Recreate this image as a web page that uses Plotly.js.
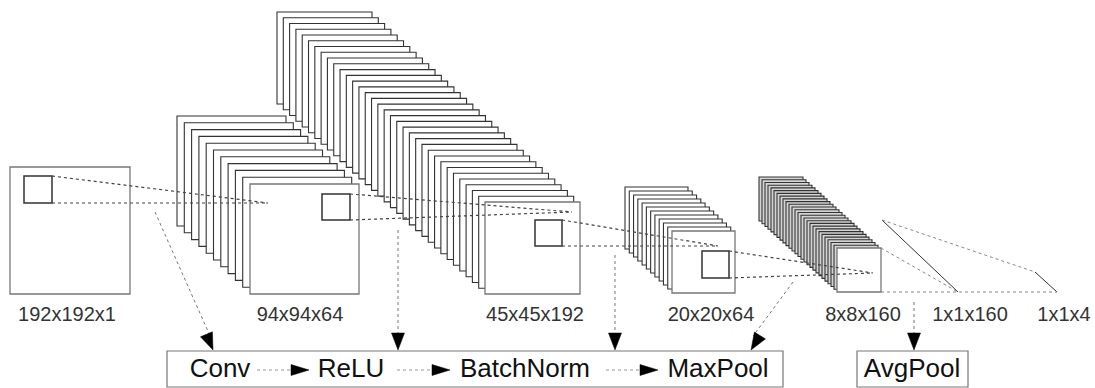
<!DOCTYPE html>
<html><head><meta charset="utf-8">
<script src="https://cdn.plot.ly/plotly-3.0.1.min.js"></script>
<style>html,body{margin:0;padding:0;background:#fff}#chart{width:1095px;height:388px}</style>
</head><body><div id="chart"></div>
<script>
// ---- data ----
const layerLabels = ['192x192x1','94x94x64','45x45x192','20x20x64','8x8x160','1x1x160','1x1x4'];
const spatialSize = [192, 94, 45, 20, 8, 1, 1];
const channels    = [1, 64, 192, 64, 160, 160, 4];
const framesDrawn = [1, 11, 34, 12, 27];
const opsMain = ['Conv', 'ReLU', 'BatchNorm', 'MaxPool'];
const opsTail = ['AvgPool'];

// ---- layout geometry (pixel space of the drawing) ----
const stackBack  = [[10,167],[177,116],[277,12],[625,187],[759,177]];
const stackFront = [[10,167],[250,184],[485,202],[672,231],[837,248]];
const faceW = [120,109,95,63,44];
const faceH = [127,110,92,62,44];
const backFill = ['#fff','#fff','#fff','#fff','#d4d4d4'];
const kernelBox = [[24,176,52,203],[322,194,350,220],[535,220,562,246],[702,251,729,278]];
const kernelTarget = [[268,203],[572,212],[718,246],[873,273]];
const labelX = [67,300,535,711,863,970,1064];
const labelY = 316;
const opsMainX = [220,351,525,718];
const opsTailX = [912];
const opsY = 370;
const mainBox = [167,351,783,387];
const tailBox = [857,351,968,387];
const inlineArrows = [[257,309],[397,450],[606,658]];
const downArrows = [[155,212,213,350],[398,230,398,350],[615,255,615,350],[793,282,751,350],[914,302,914,350]];

const shapes = [];
const L = (x0,y0,x1,y1,color,width,dash)=>shapes.push({type:'line',xref:'x',yref:'y',x0,y0,x1,y1,line:{color,width,dash:dash||'solid'}});
const R = (x0,y0,x1,y1,color,width,fill)=>shapes.push({type:'rect',xref:'x',yref:'y',x0,y0,x1,y1,line:{color,width},fillcolor:fill||'rgba(0,0,0,0)'});
function head(tx,ty,fx,fy,len,hw){
  const dx=tx-fx, dy=ty-fy, d=Math.hypot(dx,dy), ux=dx/d, uy=dy/d;
  const bx=tx-ux*len, by=ty-uy*len, px=-uy*hw, py=ux*hw;
  shapes.push({type:'path',xref:'x',yref:'y',path:`M ${tx} ${ty} L ${bx+px} ${by+py} L ${bx-px} ${by-py} Z`,fillcolor:'#000',line:{color:'#000',width:0.5}});
}

// stacks of feature maps
framesDrawn.forEach((n,i)=>{
  const [bx,by]=stackBack[i], [fx,fy]=stackFront[i];
  for(let k=0;k<n;k++){
    const t = n>1 ? k/(n-1) : 1;
    const x=bx+(fx-bx)*t, y=by+(fy-by)*t;
    const front = (k===n-1);
    R(x,y,x+faceW[i],y+faceH[i], front?'#777':'#333', front?1.3:1.1, front?'#fff':backFill[i]);
  }
});
// kernels
kernelBox.forEach(b=>R(b[0],b[1],b[2],b[3],'#333',1.5,'#fff'));
// kernel projections
kernelBox.forEach((b,i)=>{
  const [tx,ty]=kernelTarget[i];
  L(b[2],b[1],tx,ty,'#444',1.2,'dot');
  L(b[2],b[3],tx,ty,'#444',1.2,'dot');
});
// fully connected tail
const f5=stackFront[4];
L(882,220,958,292,'#333',1,'solid');
L(1035,272,1057,292,'#333',1,'solid');
L(882,220,1035,272,'#888',1,'dot');
L(f5[0]+faceW[4],f5[1],958,292,'#888',1,'dot');
L(f5[0]+faceW[4],f5[1]+faceH[4],1057,292,'#888',1,'dot');

// op boxes
R(mainBox[0],mainBox[1],mainBox[2],mainBox[3],'#777',1.2);
R(tailBox[0],tailBox[1],tailBox[2],tailBox[3],'#777',1.2);
// inline arrows
inlineArrows.forEach(a=>{
  L(a[0],opsY,a[1]-16,opsY,'#999',1,'dot');
  head(a[1],opsY,a[0],opsY,18,5.5);
});
// arrows to ops
downArrows.forEach(a=>{
  L(a[0],a[1],a[2]-(a[2]-a[0])*0.05,a[3]-14,'#777',1,'dot');
  head(a[2],a[3],a[0],a[1],17,6.5);
});

const traces = [
  {type:'scatter',mode:'text',x:labelX,y:layerLabels.map(()=>labelY),text:layerLabels,
   textfont:{family:'Liberation Sans, Arial, sans-serif',size:20,color:'#333'},hoverinfo:'skip',showlegend:false,
   customdata:spatialSize.map((s,i)=>[s,channels[i]])},
  {type:'scatter',mode:'text',x:opsMainX.concat(opsTailX),y:opsMainX.concat(opsTailX).map(()=>opsY),
   text:opsMain.concat(opsTail),
   textfont:{family:'Liberation Sans, Arial, sans-serif',size:26,color:'#111'},hoverinfo:'skip',showlegend:false}
];

const layout = {
  width:1095,height:388,margin:{l:0,r:0,t:0,b:0},
  paper_bgcolor:'#fff',plot_bgcolor:'#fff',
  xaxis:{range:[0,1095],visible:false,fixedrange:true},
  yaxis:{range:[388,0],visible:false,fixedrange:true},
  shapes:shapes,showlegend:false
};
Plotly.newPlot('chart',traces,layout,{displayModeBar:false,staticPlot:true});
</script></body></html>
